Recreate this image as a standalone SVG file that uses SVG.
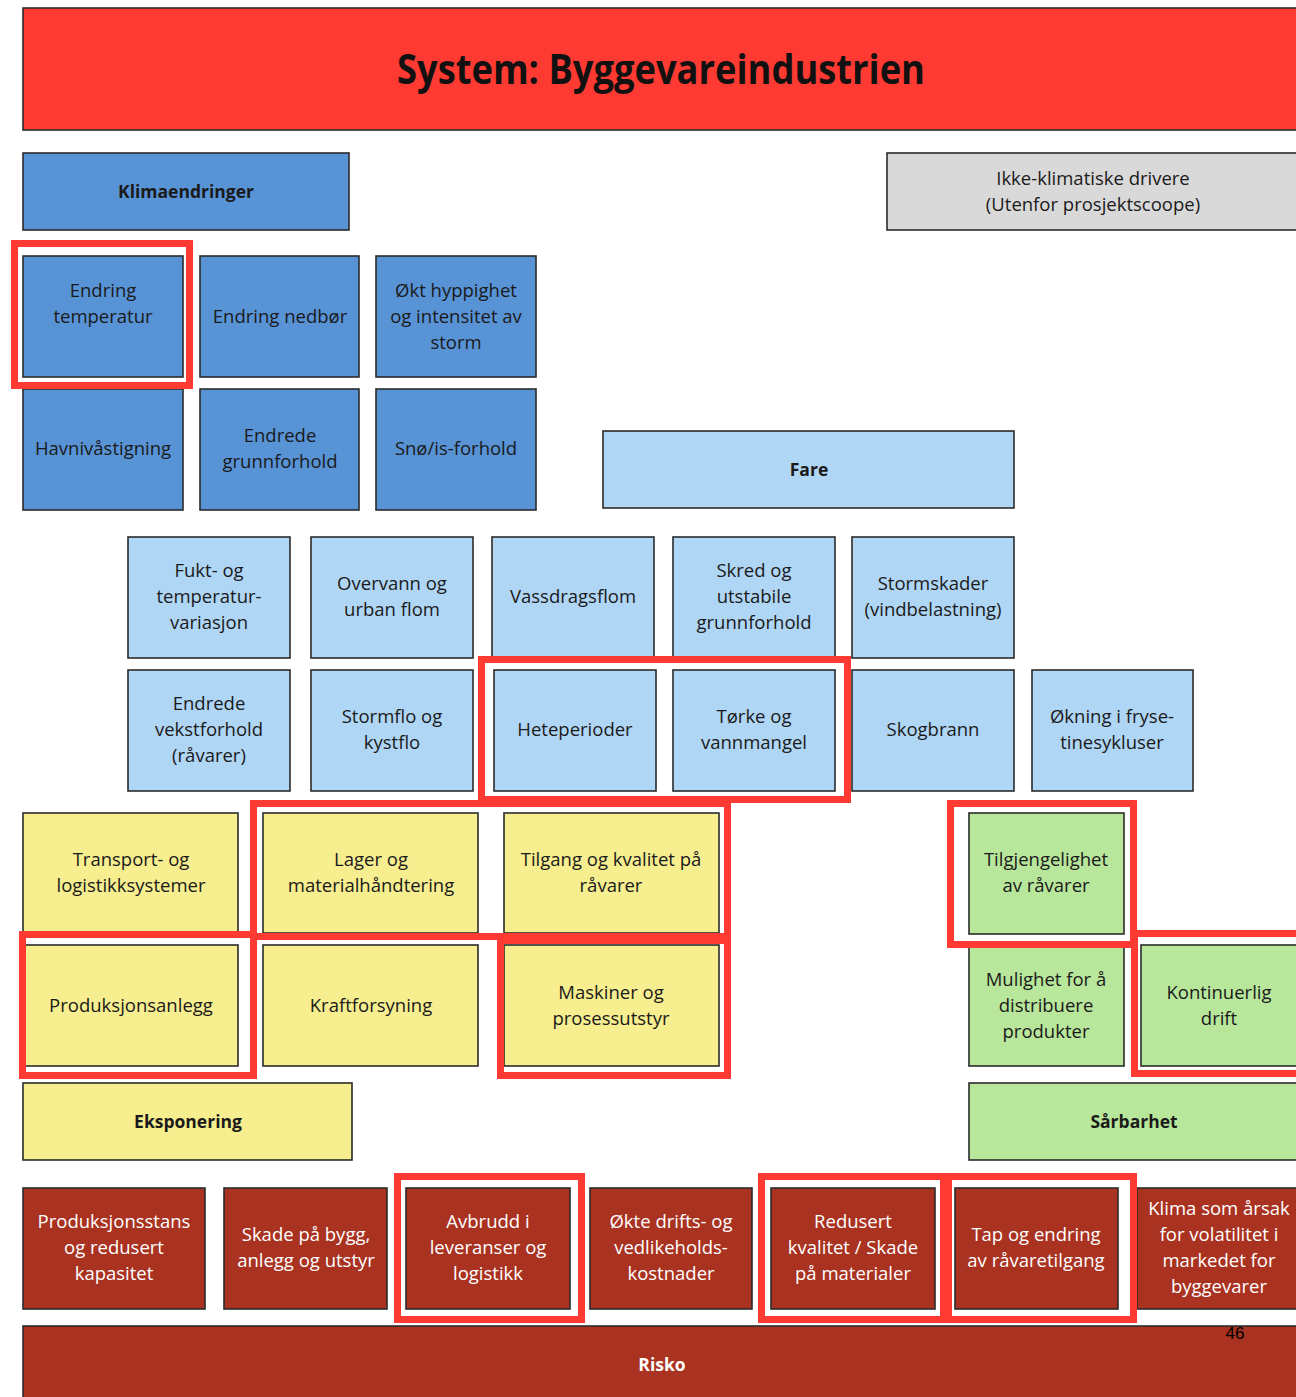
<svg xmlns="http://www.w3.org/2000/svg" width="1296" height="1397" viewBox="0 0 1296 1397">
<style>
.b{stroke:#2b2b2b;stroke-width:1.6}
.db{fill:#5893d6}.lb{fill:#b0d6f5}.ye{fill:#f6ee8f}.gr{fill:#b8e69b}.dr{fill:#a93221}.gy{fill:#d9d9d9}.rd{fill:#fe3a32}
text{font-family:"Open Sans","Noto Sans","Liberation Sans",sans-serif;font-size:18.5px;fill:#1a1a1a;text-anchor:middle}
.w{fill:#ffffff}
.bd{font-weight:bold;font-size:17.5px}
.tt{font-weight:bold;font-size:41px;fill:#111111}
.pg{font-family:"Liberation Sans",sans-serif;font-size:17px;fill:#000000}
.hl{fill:none;stroke:#fe3a32;stroke-width:7}
</style>
<g id="title"><rect class="b rd" x="23" y="8" width="1280" height="122"/><text class="tt" x="661" y="84" textLength="528" lengthAdjust="spacingAndGlyphs">System: Byggevareindustrien</text></g>
<g id="klimaendringer"><rect class="b db" x="23" y="153" width="326" height="77"/><text class="bd" x="186" y="198">Klimaendringer</text></g>
<g id="ikke-klimatiske"><rect class="b gy" x="887" y="153" width="416" height="77"/><text x="1093" y="185">Ikke-klimatiske drivere</text><text x="1093" y="211">(Utenfor prosjektscoope)</text></g>

<g id="endring-temperatur"><rect class="b db" x="23" y="256" width="160" height="121"/><text x="103" y="297">Endring</text><text x="103" y="323">temperatur</text></g>
<g id="endring-nedbor"><rect class="b db" x="200" y="256" width="159" height="121"/><text x="280" y="323">Endring nedbør</text></g>
<g id="okt-hyppighet"><rect class="b db" x="376" y="256" width="160" height="121"/><text x="456" y="297">Økt hyppighet</text><text x="456" y="323">og intensitet av</text><text x="456" y="349">storm</text></g>
<g id="havnivastigning"><rect class="b db" x="23" y="389" width="160" height="121"/><text x="103" y="455">Havnivåstigning</text></g>
<g id="endrede-grunnforhold"><rect class="b db" x="200" y="389" width="159" height="121"/><text x="280" y="442">Endrede</text><text x="280" y="468">grunnforhold</text></g>
<g id="sno-is"><rect class="b db" x="376" y="389" width="160" height="121"/><text x="456" y="455">Snø/is-forhold</text></g>

<g id="fare"><rect class="b lb" x="603" y="431" width="411" height="77"/><text class="bd" x="809" y="476">Fare</text></g>

<g id="fukt"><rect class="b lb" x="128" y="537" width="162" height="121"/><text x="209" y="577">Fukt- og</text><text x="209" y="603">temperatur-</text><text x="209" y="629">variasjon</text></g>
<g id="overvann"><rect class="b lb" x="311" y="537" width="162" height="121"/><text x="392" y="590">Overvann og</text><text x="392" y="616">urban flom</text></g>
<g id="vassdragsflom"><rect class="b lb" x="492" y="537" width="162" height="121"/><text x="573" y="603">Vassdragsflom</text></g>
<g id="skred"><rect class="b lb" x="673" y="537" width="162" height="121"/><text x="754" y="577">Skred og</text><text x="754" y="603">utstabile</text><text x="754" y="629">grunnforhold</text></g>
<g id="stormskader"><rect class="b lb" x="852" y="537" width="162" height="121"/><text x="933" y="590">Stormskader</text><text x="933" y="616">(vindbelastning)</text></g>

<g id="vekstforhold"><rect class="b lb" x="128" y="670" width="162" height="121"/><text x="209" y="710">Endrede</text><text x="209" y="736">vekstforhold</text><text x="209" y="762">(råvarer)</text></g>
<g id="stormflo"><rect class="b lb" x="311" y="670" width="162" height="121"/><text x="392" y="723">Stormflo og</text><text x="392" y="749">kystflo</text></g>
<g id="heteperioder"><rect class="b lb" x="494" y="670" width="162" height="121"/><text x="575" y="736">Heteperioder</text></g>
<g id="torke"><rect class="b lb" x="673" y="670" width="162" height="121"/><text x="754" y="723">Tørke og</text><text x="754" y="749">vannmangel</text></g>
<g id="skogbrann"><rect class="b lb" x="852" y="670" width="162" height="121"/><text x="933" y="736">Skogbrann</text></g>
<g id="fryse-tine"><rect class="b lb" x="1032" y="670" width="161" height="121"/><text x="1112" y="723">Økning i fryse-</text><text x="1112" y="749">tinesykluser</text></g>

<g id="transport"><rect class="b ye" x="23" y="813" width="215" height="120"/><text x="131" y="866">Transport- og</text><text x="131" y="892">logistikksystemer</text></g>
<g id="lager"><rect class="b ye" x="263" y="813" width="215" height="120"/><text x="371" y="866">Lager og</text><text x="371" y="892">materialhåndtering</text></g>
<g id="tilgang"><rect class="b ye" x="504" y="813" width="215" height="120"/><text x="611" y="866">Tilgang og kvalitet på</text><text x="611" y="892">råvarer</text></g>
<g id="produksjonsanlegg"><rect class="b ye" x="25" y="945" width="213" height="121"/><text x="131" y="1012">Produksjonsanlegg</text></g>
<g id="kraftforsyning"><rect class="b ye" x="263" y="945" width="215" height="121"/><text x="371" y="1012">Kraftforsyning</text></g>
<g id="maskiner"><rect class="b ye" x="504" y="945" width="215" height="121"/><text x="611" y="999">Maskiner og</text><text x="611" y="1025">prosessutstyr</text></g>
<g id="eksponering"><rect class="b ye" x="23" y="1083" width="329" height="77"/><text class="bd" x="188" y="1128">Eksponering</text></g>

<g id="tilgjengelighet"><rect class="b gr" x="969" y="813" width="155" height="121"/><text x="1046" y="866">Tilgjengelighet</text><text x="1046" y="892">av råvarer</text></g>
<g id="mulighet"><rect class="b gr" x="969" y="945" width="155" height="121"/><text x="1046" y="986">Mulighet for å</text><text x="1046" y="1012">distribuere</text><text x="1046" y="1038">produkter</text></g>
<g id="kontinuerlig"><rect class="b gr" x="1141" y="945" width="160" height="121"/><text x="1219" y="999">Kontinuerlig</text><text x="1219" y="1025">drift</text></g>
<g id="sarbarhet"><rect class="b gr" x="969" y="1083" width="332" height="77"/><text class="bd" x="1134" y="1128">Sårbarhet</text></g>

<g id="produksjonsstans"><rect class="b dr" x="23" y="1188" width="182" height="121"/><text class="w" x="114" y="1228">Produksjonsstans</text><text class="w" x="114" y="1254">og redusert</text><text class="w" x="114" y="1280">kapasitet</text></g>
<g id="skade-bygg"><rect class="b dr" x="224" y="1188" width="163" height="121"/><text class="w" x="306" y="1241">Skade på bygg,</text><text class="w" x="306" y="1267">anlegg og utstyr</text></g>
<g id="avbrudd"><rect class="b dr" x="406" y="1188" width="164" height="121"/><text class="w" x="488" y="1228">Avbrudd i</text><text class="w" x="488" y="1254">leveranser og</text><text class="w" x="488" y="1280">logistikk</text></g>
<g id="okte-kostnader"><rect class="b dr" x="590" y="1188" width="162" height="121"/><text class="w" x="671" y="1228">Økte drifts- og</text><text class="w" x="671" y="1254">vedlikeholds-</text><text class="w" x="671" y="1280">kostnader</text></g>
<g id="redusert-kvalitet"><rect class="b dr" x="771" y="1188" width="164" height="121"/><text class="w" x="853" y="1228">Redusert</text><text class="w" x="853" y="1254">kvalitet / Skade</text><text class="w" x="853" y="1280">på materialer</text></g>
<g id="tap-endring"><rect class="b dr" x="955" y="1188" width="163" height="121"/><text class="w" x="1036" y="1241">Tap og endring</text><text class="w" x="1036" y="1267">av råvaretilgang</text></g>
<g id="klima-arsak"><rect class="b dr" x="1137" y="1188" width="166" height="121"/><text class="w" x="1219" y="1215">Klima som årsak</text><text class="w" x="1219" y="1241">for volatilitet i</text><text class="w" x="1219" y="1267">markedet for</text><text class="w" x="1219" y="1293">byggevarer</text></g>

<g id="risko"><rect class="b dr" x="23" y="1326" width="1280" height="80"/><text class="w bd" x="662" y="1371">Risko</text></g>
<text class="pg" x="1235" y="1339">46</text>

<g id="highlights">
<rect class="hl" x="14.5" y="243.5" width="175" height="142"/>
<rect class="hl" x="481.5" y="659.5" width="366" height="140"/>
<rect class="hl" x="253.5" y="803.5" width="474" height="133"/>
<rect class="hl" x="22.5" y="934.5" width="231" height="141"/>
<rect class="hl" x="500.5" y="940.5" width="227" height="135"/>
<rect class="hl" x="950.5" y="803.5" width="183" height="141"/>
<rect class="hl" x="1134.5" y="933.5" width="170" height="140"/>
<rect class="hl" x="397.5" y="1176.5" width="184" height="143"/>
<rect class="hl" x="761.5" y="1176.5" width="182" height="143"/>
<rect class="hl" x="948.5" y="1176.5" width="185" height="143"/>
</g>
</svg>
